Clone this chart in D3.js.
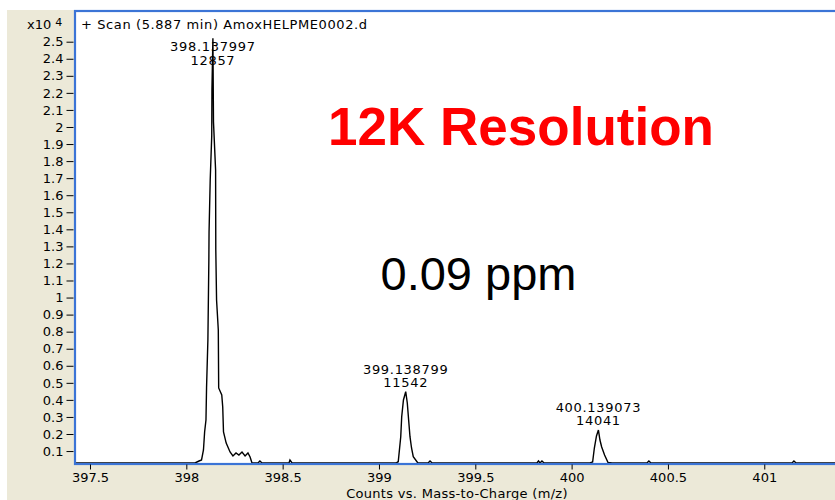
<!DOCTYPE html>
<html>
<head>
<meta charset="utf-8">
<script src="https://cdn.jsdelivr.net/npm/d3@7"></script>
<style>
  html, body { margin: 0; padding: 0; background: #ffffff; }
  svg { display: block; }
  .small { font-family: "DejaVu Sans", Verdana, sans-serif; font-size: 13px; fill: #000; }
</style>
</head>
<body>
<svg id="chart" width="835" height="500"></svg>
<script>
// Profile trace of the scan (m/z, counts)
const traceMz = [
  397.417, 398.045, 398.066, 398.079, 398.089, 398.095, 398.102, 398.105, 398.112, 398.117,
  398.118, 398.124, 398.132, 398.133,
  398.137997,
  398.141, 398.152, 398.153, 398.157, 398.166, 398.168, 398.184, 398.189, 398.193, 398.207,
  398.227, 398.242, 398.258, 398.273, 398.289, 398.305, 398.320, 398.331, 398.341, 398.372,
  398.382, 398.393, 398.533, 398.538, 398.549,
  399.088, 399.100, 399.113, 399.118, 399.127, 399.138799, 399.147, 399.154, 399.161, 399.169,
  399.178, 399.202, 399.255, 399.265, 399.276,
  399.820, 399.828, 399.836, 399.846, 399.857,
  400.095, 400.109, 400.118, 400.129, 400.139073, 400.147, 400.156, 400.171, 400.189, 400.210,
  400.391, 400.401, 400.412,
  401.144, 401.154, 401.165, 401.419
];
const traceCounts = [
  300, 300, 417, 476, 1062, 2118, 2820, 4697, 7510, 12200,
  13850, 16890, 19500, 22200,
  25200,
  20300, 17480, 12800, 9860, 8100, 4700, 4290, 3580, 2120, 1470,
  945, 710, 886, 769, 945, 710, 886, 652, 300, 300,
  417, 300, 300, 476, 300,
  300, 376, 1842, 3015, 3994, 4480, 3818, 2821, 1842, 1179,
  669, 300, 300, 417, 300,
  300, 417, 300, 417, 300,
  300, 359, 1179, 1883, 2235, 1648, 1238, 769, 329, 300,
  300, 417, 300,
  300, 417, 300, 300
];

// Annotated peaks: centroid m/z, apex counts and resolution
const peakMz = [398.137997, 399.138799, 400.139073];
const peakApex = [25200, 4480, 2235];
const peakResolution = [12857, 11542, 14041];

// Axis ticks
const xTicks = [397.5, 398, 398.5, 399, 399.5, 400, 400.5, 401];
const xTickLabels = ["397.5", "398", "398.5", "399", "399.5", "400", "400.5", "401"];
const yTicks = [1000, 2000, 3000, 4000, 5000, 6000, 7000, 8000, 9000, 10000,
                11000, 12000, 13000, 14000, 15000, 16000, 17000, 18000, 19000, 20000,
                21000, 22000, 23000, 24000, 25000];
const yTickLabels = ["0.1", "0.2", "0.3", "0.4", "0.5", "0.6", "0.7", "0.8", "0.9", "1",
                     "1.1", "1.2", "1.3", "1.4", "1.5", "1.6", "1.7", "1.8", "1.9", "2",
                     "2.1", "2.2", "2.3", "2.4", "2.5"];

const titleText = "+ Scan (5.887 min) AmoxHELPME0002.d";
const xAxisTitle = "Counts vs. Mass-to-Charge (m/z)";
const headline = "12K Resolution";
const accuracy = "0.09 ppm";

const svg = d3.select("#chart");
const W = 835, H = 500;
const plot = { left: 74, top: 11, right: 845, bottom: 463 };

const x = d3.scaleLinear().domain([397.417, 401.419]).range([plot.left, plot.right]);
const y = d3.scaleLinear().domain([300, 26800]).range([plot.bottom, plot.top]);

// Window frame
svg.append("rect").attr("x", 0).attr("y", 0).attr("width", W).attr("height", H).attr("fill", "#ffffff");
svg.append("rect").attr("x", 7).attr("y", 10).attr("width", W - 7).attr("height", H - 10).attr("fill", "#ECE9D8");

// Plot area
svg.append("rect")
  .attr("x", plot.left).attr("y", plot.top)
  .attr("width", plot.right - plot.left).attr("height", plot.bottom - plot.top)
  .attr("fill", "#ffffff");

svg.append("clipPath").attr("id", "plotClip")
  .append("rect")
  .attr("x", plot.left).attr("y", plot.top)
  .attr("width", plot.right - plot.left).attr("height", plot.bottom - plot.top + 1);

// Trace
const line = d3.line().x((d, i) => x(traceMz[i])).y((d, i) => y(traceCounts[i]));
svg.append("path")
  .attr("clip-path", "url(#plotClip)")
  .attr("d", line(traceMz))
  .attr("fill", "none")
  .attr("stroke", "#000")
  .attr("stroke-width", 1.4)
  .attr("stroke-linejoin", "miter");

// Plot border
svg.append("rect")
  .attr("x", plot.left + 1).attr("y", plot.top)
  .attr("width", plot.right - plot.left).attr("height", plot.bottom - plot.top + 1)
  .attr("fill", "none")
  .attr("stroke", "#3B74D6")
  .attr("stroke-width", 2.2);

// Y axis
const yAxis = d3.axisLeft(y)
  .tickValues(yTicks)
  .tickSize(7)
  .tickPadding(3)
  .tickFormat((d, i) => yTickLabels[i]);
const gy = svg.append("g").attr("transform", `translate(${plot.left - 0.5},0)`).call(yAxis);
gy.select(".domain").remove();
gy.selectAll(".tick line").attr("stroke", "#000");
gy.selectAll(".tick text").attr("class", "small").attr("font-size", null).attr("font-family", null);

// X axis
const xAxis = d3.axisBottom(x)
  .tickValues(xTicks)
  .tickSize(5)
  .tickPadding(3)
  .tickFormat((d, i) => xTickLabels[i]);
const gx = svg.append("g").attr("transform", `translate(0,${plot.bottom + 1.5})`).call(xAxis);
gx.select(".domain").remove();
gx.selectAll(".tick line").attr("stroke", "#000");
gx.selectAll(".tick text").attr("class", "small").attr("font-size", null).attr("font-family", null);

// Scale factor label
const sf = svg.append("text").attr("class", "small").attr("x", 27).attr("y", 29);
sf.append("tspan").text("x10");
sf.append("tspan").attr("dx", 4).attr("dy", -3).attr("font-size", 11).text("4");

// Scan title
svg.append("text").attr("class", "small")
  .attr("x", 81).attr("y", 29)
  .attr("letter-spacing", 0.6)
  .text(titleText);

// Peak annotations: m/z above resolution, kept below the plot top
peakMz.forEach((m, i) => {
  const anchorY = Math.max(y(peakApex[i]), 69);
  const g = svg.append("g").attr("text-anchor", "middle");
  g.append("text").attr("class", "small").attr("font-size", 12.5).attr("letter-spacing", 0.7)
    .attr("x", x(m)).attr("y", anchorY - 18).text(m.toFixed(6));
  g.append("text").attr("class", "small").attr("font-size", 12.5).attr("letter-spacing", 0.7)
    .attr("x", x(m)).attr("y", anchorY - 4.5).text(peakResolution[i]);
});

// X axis title
svg.append("text").attr("class", "small")
  .attr("x", 457).attr("y", 498)
  .attr("text-anchor", "middle")
  .attr("letter-spacing", 0.3)
  .text(xAxisTitle);

// Callouts
svg.append("text")
  .attr("x", 521).attr("y", 145)
  .attr("text-anchor", "middle")
  .attr("font-family", "'Liberation Sans', Arial, sans-serif")
  .attr("font-weight", "bold")
  .attr("font-size", 53)
  .attr("fill", "#FF0000")
  .text(headline);

svg.append("text")
  .attr("x", 478.5).attr("y", 290)
  .attr("text-anchor", "middle")
  .attr("font-family", "'Liberation Sans', Arial, sans-serif")
  .attr("font-size", 47)
  .attr("fill", "#000")
  .text(accuracy);
</script>
</body>
</html>
